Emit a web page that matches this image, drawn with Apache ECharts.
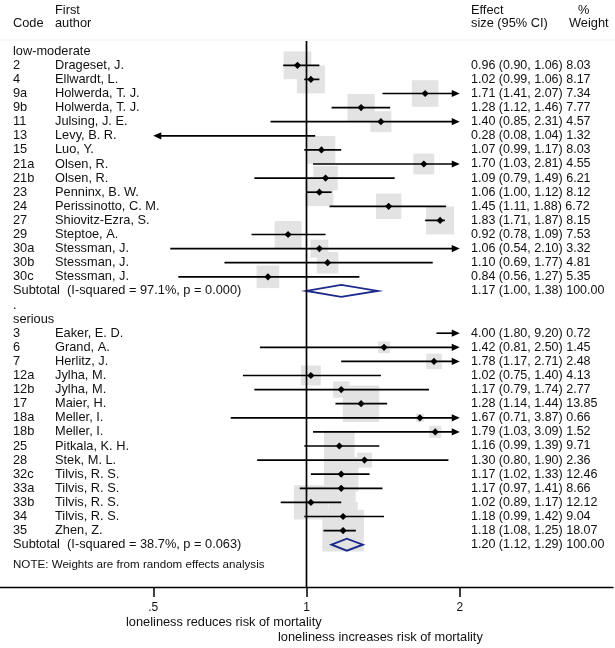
<!DOCTYPE html>
<html><head><meta charset="utf-8">
<script src="https://cdn.jsdelivr.net/npm/echarts@6/dist/echarts.min.js"></script>
<style>html,body{margin:0;padding:0;background:#fff}#c{width:615px;height:648px}</style>
</head><body><div id="c"></div>
<script>
// ---------- data ----------
const groupNames = ['low-moderate', 'serious'];

const lowCodes   = ['2','4','9a','9b','11','13','15','21a','21b','23','24','27','29','30a','30b','30c'];
const lowAuthors = ['Drageset, J.','Ellwardt, L.','Holwerda, T. J.','Holwerda, T. J.','Julsing, J. E.','Levy, B. R.','Luo, Y.','Olsen, R.','Olsen, R.','Penninx, B. W.','Perissinotto, C. M.','Shiovitz-Ezra, S.','Steptoe, A.','Stessman, J.','Stessman, J.','Stessman, J.'];
const lowES  = [0.96,1.02,1.71,1.28,1.40,0.28,1.07,1.70,1.09,1.06,1.45,1.83,0.92,1.06,1.10,0.84];
const lowLo  = [0.90,0.99,1.41,1.12,0.85,0.08,0.99,1.03,0.79,1.00,1.11,1.71,0.78,0.54,0.69,0.56];
const lowHi  = [1.06,1.06,2.07,1.46,2.31,1.04,1.17,2.81,1.49,1.12,1.88,1.87,1.09,2.10,1.77,1.27];
const lowW   = [8.03,8.17,7.34,7.77,4.57,1.32,8.03,4.55,6.21,8.12,6.72,8.15,7.53,3.32,4.81,5.35];

const serCodes   = ['3','6','7','12a','12b','17','18a','18b','25','28','32c','33a','33b','34','35'];
const serAuthors = ['Eaker, E. D.','Grand, A.','Herlitz, J.','Jylha, M.','Jylha, M.','Maier, H.','Meller, I.','Meller, I.','Pitkala, K. H.','Stek, M. L.','Tilvis, R. S.','Tilvis, R. S.','Tilvis, R. S.','Tilvis, R. S.','Zhen, Z.'];
const serES  = [4.00,1.42,1.78,1.02,1.17,1.28,1.67,1.79,1.16,1.30,1.17,1.17,1.02,1.18,1.18];
const serLo  = [1.80,0.81,1.17,0.75,0.79,1.14,0.71,1.03,0.99,0.80,1.02,0.97,0.89,0.99,1.08];
const serHi  = [9.20,2.50,2.71,1.40,1.74,1.44,3.87,3.09,1.39,1.90,1.33,1.41,1.17,1.42,1.25];
const serW   = [0.72,1.45,2.48,4.13,2.77,13.85,0.66,1.52,9.71,2.36,12.46,8.66,12.12,9.04,18.07];

const subLabels = ['Subtotal  (I-squared = 97.1%, p = 0.000)', 'Subtotal  (I-squared = 38.7%, p = 0.063)'];
const subES = [1.17, 1.20];
const subLo = [1.00, 1.12];
const subHi = [1.38, 1.29];
const subW  = [100.00, 100.00];

const noteText = 'NOTE: Weights are from random effects analysis';
const xTicks = [0.5, 1, 2];
const xTickLabels = ['.5', '1', '2'];
const nullEffect = 1;
const plotMin = 0.5, plotMax = 2;      // CI display range (arrows beyond)
const leftTitle = 'loneliness reduces risk of mortality';
const rightTitle = 'loneliness increases risk of mortality';

// ---------- build rows ----------
const FONT = '"Liberation Sans", Arial, Helvetica, sans-serif';
const FS = 12.8;
const FSN = 12.5;
const fmt = v => v.toFixed(2);
const textRows = [];   // [row, code, author, stats]
const studies = [];    // [lo, hi, es, row, w]
const subs = [];       // [lo, hi, es, row]
let row = 0;
const groups = [
  {codes: lowCodes, authors: lowAuthors, es: lowES, lo: lowLo, hi: lowHi, w: lowW},
  {codes: serCodes, authors: serAuthors, es: serES, lo: serLo, hi: serHi, w: serW}
];
groups.forEach((g, gi) => {
  if (gi > 0) { textRows.push([row, '.', '', '']); row++; }
  textRows.push([row, groupNames[gi], '', '']); row++;
  g.codes.forEach((c, i) => {
    textRows.push([row, c, g.authors[i], `${fmt(g.es[i])} (${fmt(g.lo[i])}, ${fmt(g.hi[i])}) ${fmt(g.w[i])}`]);
    studies.push([g.lo[i], g.hi[i], g.es[i], row, g.w[i]]);
    row++;
  });
  textRows.push([row, subLabels[gi], '', `${fmt(subES[gi])} (${fmt(subLo[gi])}, ${fmt(subHi[gi])}) ${fmt(subW[gi])}`]);
  subs.push([subLo[gi], subHi[gi], subES[gi], row]);
  row++;
});
const noteRow = row + 0.44;
const headerRows = [-2.92, -1.98];
const yMin = -3.63, yMax = 38.0;

const chart = echarts.init(document.getElementById('c'), null, {renderer: 'canvas'});
const BOXK = 9.8;
const inRange = v => v >= plotMin && v <= plotMax;

function txt(x, y, s, extra) {
  return Object.assign({type: 'text', x: x, y: y, silent: true,
    style: Object.assign({text: s, fill: '#111', fontSize: FS, fontFamily: FONT, align: 'left', verticalAlign: 'middle'}, extra || {})});
}

const option = {
  animation: false,
  grid: {left: -3, right: 2, top: 0, bottom: 61},
  xAxis: {
    type: 'log', logBase: 2, min: 0.25, max: 4,
    axisLine: {show: true, onZero: false, lineStyle: {color: '#000', width: 1.3}},
    axisTick: {show: true, customValues: xTicks, length: 10, lineStyle: {color: '#000', width: 1.5}},
    axisLabel: {show: true, customValues: xTicks, margin: 15, color: '#111', fontSize: 12, fontFamily: FONT,
      formatter: v => { const i = xTicks.findIndex(t => Math.abs(t - v) < 1e-9); return i >= 0 ? xTickLabels[i] : ''; }},
    splitLine: {show: false}, minorTick: {show: false}
  },
  yAxis: {type: 'value', inverse: true, min: yMin, max: yMax, show: false},
  series: [
    // weight boxes
    {
      type: 'custom', clip: false, data: studies,
      renderItem: (p, api) => {
        const es = api.value(2), w = api.value(4), r = api.value(3);
        if (!inRange(es)) return null;
        const c = api.coord([es, r]);
        const s = BOXK * Math.sqrt(w);
        return {type: 'rect', shape: {x: c[0] - s / 2, y: c[1] - s / 2, width: s, height: s}, style: {fill: '#e3e3e3'}};
      }
    },
    // null line
    {
      type: 'line', data: [[nullEffect, -0.72], [nullEffect, yMax]], symbol: 'none',
      lineStyle: {color: '#000', width: 1.7}, silent: true
    },
    // CI lines, arrows, point estimates
    {
      type: 'custom', clip: false, data: studies,
      renderItem: (p, api) => {
        const lo = api.value(0), hi = api.value(1), es = api.value(2), r = api.value(3);
        const cl = Math.max(lo, plotMin), ch = Math.min(hi, plotMax);
        const a = api.coord([cl, r]), b = api.coord([ch, r]);
        const y = a[1];
        const ch_ = [];
        const AL = 8, AH = 3.6;
        let x1 = a[0], x2 = b[0];
        if (lo < plotMin) { ch_.push({type: 'polygon', shape: {points: [[a[0], y], [a[0] + AL, y - AH], [a[0] + AL, y + AH]]}, style: {fill: '#000'}}); x1 = a[0] + AL - 1; }
        if (hi > plotMax) { ch_.push({type: 'polygon', shape: {points: [[b[0], y], [b[0] - AL, y - AH], [b[0] - AL, y + AH]]}, style: {fill: '#000'}}); x2 = b[0] - AL + 1; }
        ch_.unshift({type: 'line', shape: {x1: x1, y1: y, x2: x2, y2: y}, style: {stroke: '#000', lineWidth: 1.7}});
        if (inRange(es)) {
          const c = api.coord([es, r]);
          const d = 3.6;
          ch_.push({type: 'polygon', shape: {points: [[c[0] - d, c[1]], [c[0], c[1] - d], [c[0] + d, c[1]], [c[0], c[1] + d]]}, style: {fill: '#000'}});
        }
        return {type: 'group', children: ch_};
      }
    },
    // subtotal diamonds
    {
      type: 'custom', clip: false, data: subs,
      renderItem: (p, api) => {
        const lo = api.value(0), hi = api.value(1), es = api.value(2), r = api.value(3);
        const a = api.coord([lo, r]), b = api.coord([hi, r]), c = api.coord([es, r]);
        const h = 6;
        return {type: 'polygon', shape: {points: [[a[0], a[1]], [c[0], c[1] - h], [b[0], b[1]], [c[0], c[1] + h]]},
          style: {fill: null, stroke: '#1b2a8c', lineWidth: 1.9}};
      }
    },
    // text columns
    {
      type: 'custom', clip: false, data: textRows.map(t => [nullEffect, t[0]]),
      renderItem: (p, api) => {
        const t = textRows[p.dataIndex];
        const y = api.coord([nullEffect, t[0]])[1];
        const kids = [txt(13, y, t[1])];
        if (t[2]) kids.push(txt(55, y, t[2]));
        if (t[3]) kids.push(txt(471, y, t[3], {fontSize: FSN}));
        return {type: 'group', children: kids};
      }
    },
    // note + headers
    {
      type: 'custom', clip: false, data: [[nullEffect, noteRow]],
      renderItem: (p, api) => {
        const yN = api.coord([nullEffect, noteRow])[1];
        const y1 = api.coord([nullEffect, headerRows[0]])[1];
        const y2 = api.coord([nullEffect, headerRows[1]])[1];
        return {type: 'group', children: [
          txt(13, yN, noteText, {fontSize: 11.6}),
          txt(55, y1, 'First'), txt(13, y2, 'Code'), txt(55, y2, 'author'),
          txt(471, y1, 'Effect'), txt(471, y2, 'size (95% CI)'),
          txt(578, y1, '%'), txt(569, y2, 'Weight'),
          {type: 'line', shape: {x1: 0, y1: 40, x2: 615, y2: 40}, style: {stroke: '#f0f0f0', lineWidth: 1}}
        ]};
      }
    }
  ],
  graphic: [
    {type: 'text', left: 126, top: 616, style: {text: leftTitle, fill: '#111', fontSize: FS, fontFamily: FONT}},
    {type: 'text', left: 278, top: 631, style: {text: rightTitle, fill: '#111', fontSize: FS, fontFamily: FONT}}
  ]
};
chart.setOption(option);
</script></body></html>
